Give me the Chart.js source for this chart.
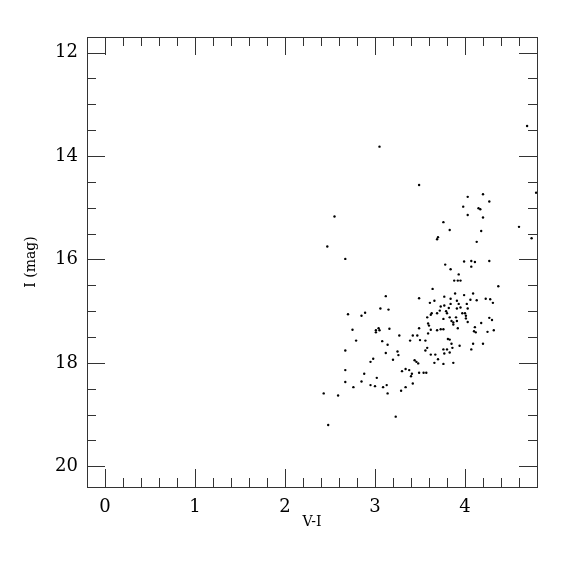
<!DOCTYPE html>
<html>
<head>
<meta charset="utf-8">
<script src="https://cdn.jsdelivr.net/npm/chart.js@4/dist/chart.umd.min.js"></script>
<style>
  html, body { margin: 0; padding: 0; background: #fff; }
</style>
</head>
<body>
<canvas id="cmd" width="575" height="575"></canvas>
<script>
// colour (V-I) and magnitude (I) of each star
const colorVI = [
  3.05, 4.69, 3.49, 4.03, 4.20, 4.27, 4.79, 3.98, 4.15, 4.17,
  2.55, 4.03, 4.20, 3.76, 3.83, 4.18, 4.60, 3.69, 3.70, 4.74,
  2.47, 4.13, 2.67, 3.99, 4.07, 4.11, 4.27, 3.78, 4.07, 3.84,
  3.93, 3.88, 3.92, 3.95, 4.37, 3.64, 3.49, 3.77, 3.89, 3.99,
  4.09, 3.66, 3.61, 3.91, 3.93, 4.06, 4.13, 4.23, 4.28, 4.31,
  3.84, 3.73, 3.77, 3.82, 3.84, 3.72, 3.69, 3.79, 3.80, 3.63,
  3.91, 3.95, 3.97, 4.02, 4.03, 4.00, 4.01, 4.01, 4.03, 4.27,
  4.30, 4.18, 4.11, 4.10, 4.12, 4.25, 4.32, 4.09, 4.20, 4.07,
  3.58, 3.62, 3.76, 3.83, 3.85, 3.87, 3.90, 3.91, 3.87, 3.59,
  3.60, 3.92, 3.49, 3.62, 3.69, 3.73, 3.76, 3.59, 3.42, 3.47,
  3.27, 3.39, 3.50, 3.56, 3.81, 3.83, 3.85, 3.86, 3.94, 3.58,
  3.56, 3.76, 3.80, 3.83, 3.77, 3.62, 3.67, 3.70, 3.66, 3.76,
  3.87, 3.44, 3.46, 3.48, 3.30, 3.34, 3.38, 3.41, 3.40, 3.49,
  3.54, 3.57, 3.12, 3.06, 3.15, 2.70, 2.85, 2.89, 2.75, 3.04,
  3.01, 3.05, 3.01, 3.16, 2.79, 3.08, 3.14, 2.67, 3.12, 3.25,
  3.26, 2.98, 2.95, 3.20, 2.67, 2.88, 3.02, 2.67, 2.85, 3.42,
  2.43, 2.59, 2.76, 2.95, 3.00, 3.09, 3.13, 3.14, 3.29, 3.34,
  3.23, 2.48
];
const magI = [
  13.82, 13.42, 14.56, 14.79, 14.74, 14.88, 14.71, 14.98, 15.01, 15.03,
  15.17, 15.14, 15.19, 15.28, 15.43, 15.45, 15.37, 15.61, 15.57, 15.59,
  15.75, 15.66, 15.99, 16.04, 16.03, 16.05, 16.03, 16.10, 16.14, 16.19,
  16.29, 16.41, 16.41, 16.41, 16.52, 16.57, 16.75, 16.72, 16.66, 16.69,
  16.66, 16.80, 16.84, 16.80, 16.86, 16.78, 16.79, 16.76, 16.77, 16.84,
  16.76, 16.91, 16.89, 16.94, 16.86, 16.99, 17.04, 17.00, 17.04, 17.04,
  16.95, 16.93, 17.04, 16.86, 16.95, 17.04, 17.09, 17.14, 17.21, 17.13,
  17.17, 17.23, 17.31, 17.39, 17.41, 17.40, 17.37, 17.63, 17.63, 17.74,
  17.12, 17.07, 17.15, 17.12, 17.19, 17.22, 17.12, 17.19, 17.26, 17.24,
  17.28, 17.33, 17.33, 17.36, 17.37, 17.35, 17.35, 17.43, 17.47, 17.47,
  17.47, 17.57, 17.56, 17.57, 17.54, 17.55, 17.63, 17.71, 17.67, 17.71,
  17.76, 17.74, 17.74, 17.80, 17.82, 17.84, 17.84, 17.93, 18.00, 18.02,
  18.00, 17.95, 17.98, 18.01, 18.16, 18.12, 18.14, 18.21, 18.26, 18.19,
  18.19, 18.19, 16.71, 16.95, 16.97, 17.06, 17.09, 17.03, 17.36, 17.33,
  17.37, 17.37, 17.41, 17.34, 17.57, 17.58, 17.65, 17.76, 17.81, 17.78,
  17.85, 17.92, 17.98, 17.94, 18.14, 18.21, 18.29, 18.37, 18.36, 18.40,
  18.59, 18.63, 18.47, 18.43, 18.45, 18.47, 18.43, 18.59, 18.54, 18.47,
  19.04, 19.20
];

const xTickLabels = [0, 1, 2, 3, 4];
const yTickLabels = [12, 14, 16, 18, 20];
const xRange = [-0.2, 4.8];
const yRange = [11.7, 20.4];

const points = colorVI.map((v, i) => ({ x: v, y: magI[i] }));

const FONT = "'DejaVu Serif', 'Liberation Serif', serif";

// frame + inward ticks on all four sides (major every label, minor between)
const frameTicks = {
  id: "frameTicks",
  afterDraw(chart) {
    const { ctx, chartArea: a, scales } = chart;
    const xs = scales.x, ys = scales.y;
    ctx.save();
    ctx.strokeStyle = "#333";
    ctx.lineWidth = 1;
    ctx.strokeRect(a.left + 0.5, a.top + 0.5, a.right - a.left, a.bottom - a.top);
    const major = 18, minor = 9;
    ctx.beginPath();
    // x ticks every 0.2
    for (let k = -1; k <= 24; k++) {
      const v = k * 0.2;
      if (v <= xRange[0] + 1e-6 || v >= xRange[1] - 1e-6) continue;
      const isMajor = Math.abs(v - Math.round(v)) < 1e-6;
      const len = isMajor ? major : minor;
      const px = Math.round(xs.getPixelForValue(v)) + 0.5;
      ctx.moveTo(px, a.bottom);
      ctx.lineTo(px, a.bottom - len);
      ctx.moveTo(px, a.top);
      ctx.lineTo(px, a.top + len);
    }
    // y ticks every 0.5
    for (let k = 22; k <= 42; k++) {
      const v = k * 0.5;
      if (v <= yRange[0] + 1e-6 || v >= yRange[1] - 1e-6) continue;
      const isMajor = v % 2 === 0;
      const len = isMajor ? major : minor;
      const py = Math.round(ys.getPixelForValue(v)) + 0.5;
      ctx.moveTo(a.left, py);
      ctx.lineTo(a.left + len, py);
      ctx.moveTo(a.right, py);
      ctx.lineTo(a.right - len, py);
    }
    ctx.stroke();
    ctx.restore();
  },
};

new Chart(document.getElementById("cmd"), {
  type: "scatter",
  data: {
    datasets: [
      {
        data: points,
        pointRadius: 1.2,
        pointBackgroundColor: "#000",
        pointBorderWidth: 0,
      },
    ],
  },
  options: {
    responsive: false,
    animation: false,
    events: [],
    layout: { padding: { top: 37, right: 38, left: 0, bottom: 0 } },
    plugins: { legend: { display: false }, tooltip: { enabled: false } },
    scales: {
      x: {
        type: "linear",
        min: xRange[0],
        max: xRange[1],
        grid: { display: false, drawTicks: false },
        border: { display: false },
        afterBuildTicks: (s) => { s.ticks = xTickLabels.map((v) => ({ value: v })); },
        afterFit: (s) => { s.height = 88; },
        ticks: { color: "#000", padding: 10, font: { family: FONT, size: 18 } },
        title: {
          display: true,
          text: "V-I",
          color: "#000",
          font: { family: FONT, size: 14 },
          padding: { top: 0, bottom: 44 },
        },
      },
      y: {
        type: "linear",
        reverse: true,
        min: yRange[0],
        max: yRange[1],
        grid: { display: false, drawTicks: false },
        border: { display: false },
        afterBuildTicks: (s) => { s.ticks = yTickLabels.map((v) => ({ value: v })); },
        afterFit: (s) => { s.width = 87; },
        ticks: { color: "#000", padding: 9, font: { family: FONT, size: 18 } },
        title: {
          display: true,
          text: "I (mag)",
          color: "#000",
          font: { family: FONT, size: 14 },
          padding: { top: 23, bottom: 0 },
        },
      },
    },
  },
  plugins: [frameTicks],
});
</script>
</body>
</html>
